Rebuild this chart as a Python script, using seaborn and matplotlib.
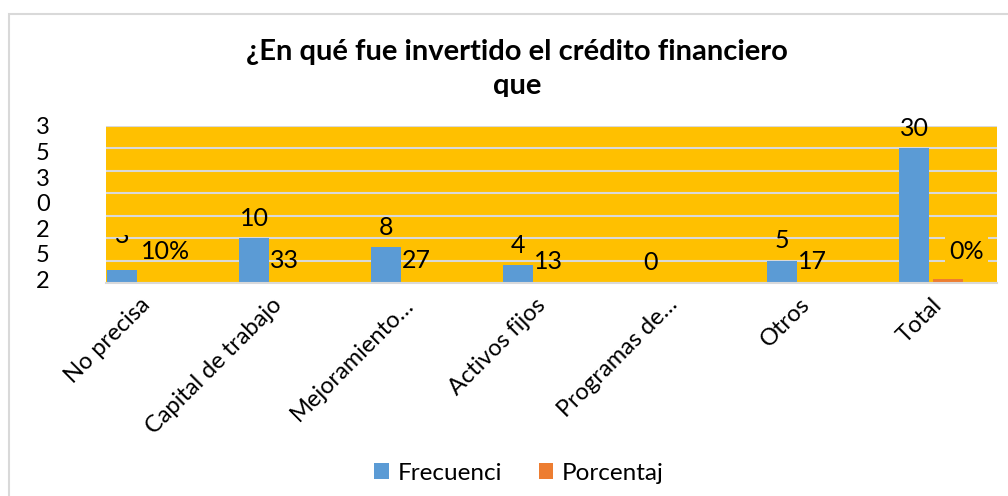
import matplotlib
matplotlib.use("Agg")
import matplotlib.pyplot as plt
from matplotlib.patches import Rectangle
import seaborn as sns
import pandas as pd

# datos del gráfico
categorias = ["No precisa", "Capital de trabajo", "Mejoramiento…", "Activos fijos",
              "Programas de…", "Otros", "Total"]
frecuencia = [3, 10, 8, 4, 0, 5, 30]
porcentaje = [0.10, 0.33, 0.27, 0.13, 0.0, 0.17, 1.00]
etiquetas_frec = ["3", "10", "8", "4", "0", "5", "30"]
etiquetas_pct = ["10%", "33", "27", "13", "", "17", "0%"]
series = ["Frecuenci", "Porcentaj"]
ticks_y = ["3", "5", "3", "0", "2", "5", "2"]

AZUL = "#5B9BD5"
NARANJA = "#ED7D31"
AMARILLO = "#FFC000"
GRIS = "#D9D9D9"

plt.rcParams['font.family'] = ['Lato', 'DejaVu Sans']
W, H = 1008, 496
fig = plt.figure(figsize=(W / 100, H / 100), dpi=100)
ax = fig.add_axes([106 / W, 1 - 283 / H, (997 - 106) / W, (283 - 126) / H])

df = pd.DataFrame({
    'categoria': categorias * 2,
    'serie': [series[0]] * len(categorias) + [series[1]] * len(categorias),
    'valor': frecuencia + porcentaje,
})

sns.barplot(data=df, x='categoria', y='valor', hue='serie', palette=[AZUL, NARANJA],
            width=0.508, gap=0.107, ax=ax, saturation=1)

ax.set_facecolor(AMARILLO)
ax.set_xlim(-0.25, 6.5)
ax.set_ylim(0, 35)
ax.set_yticks(range(0, 36, 5))
ax.yaxis.grid(True, color=GRIS, lw=1.5)
ax.set_axisbelow(True)
ax.tick_params(labelleft=False, length=0)
for s in ['top', 'right', 'left']:
    ax.spines[s].set_visible(False)
ax.spines['bottom'].set_color(GRIS)
ax.spines['bottom'].set_linewidth(1.5)
ax.set_xlabel('')
ax.set_ylabel('')
ax.set_xticks(range(len(categorias)))
ax.set_xticklabels(categorias, rotation=45, ha='right', rotation_mode='anchor', fontsize=17)
ax.tick_params(axis='x', pad=8)

# etiquetas de frecuencia
px = 0.72
for i, (bar, lbl) in enumerate(zip(ax.containers[0], etiquetas_frec)):
    dy = 34 if i == 0 else 20
    t = ax.annotate(lbl, (bar.get_x() + bar.get_width() / 2, bar.get_height()),
                    xytext=(0, dy * px), textcoords='offset points',
                    ha='center', va='center', fontsize=18)
    if i == 0:
        clip = Rectangle((-0.5, 0), 1, 10.7, transform=ax.transData)
        t.set_clip_path(clip)

# etiquetas de porcentaje
desp = {0: (-15, 31), 6: (1, 27)}
for i, (bar, lbl) in enumerate(zip(ax.containers[1], etiquetas_pct)):
    if not lbl:
        continue
    dx, dy = desp.get(i, (-18, 21))
    kw = {}
    if i == 6:
        kw['bbox'] = dict(facecolor=AMARILLO, edgecolor='none', pad=3)
    ax.annotate(lbl, (bar.get_x() + bar.get_width() / 2, bar.get_height()),
                xytext=(dx * px, dy * px), textcoords='offset points',
                ha='left', va='center', fontsize=18, annotation_clip=False, **kw)

# etiquetas del eje y (recortadas como en el original)
for i, ch in enumerate(ticks_y):
    fig.text(43 / W, 1 - (128 + 25.6 * i) / H, ch, ha='center', va='center', fontsize=17)

# título
fig.text(517 / W, 1 - 52 / H, "¿En qué fue invertido el crédito financiero",
         ha='center', va='center', fontsize=21, fontweight='bold')
t2 = fig.text(517 / W, 1 - 86 / H, "que", ha='center', va='center', fontsize=21, fontweight='bold')
t2.set_clip_path(Rectangle((0, 1 - 97 / H), 1, 97 / H, transform=fig.transFigure))

# leyenda
sns.move_legend(ax, 'center', bbox_to_anchor=(519 / W, 1 - 473 / H), bbox_transform=fig.transFigure,
                ncol=2, frameon=False, title=None, fontsize=17.5, handlelength=0.6,
                handleheight=0.6, handletextpad=0.35, columnspacing=1.5)

# borde exterior
fig.add_artist(Rectangle((9 / W, -0.1), 1.2, 1 - 14 / H + 0.1, transform=fig.transFigure,
                         fill=False, edgecolor=GRIS, lw=1.5))

fig.savefig('out.png', dpi=100)
